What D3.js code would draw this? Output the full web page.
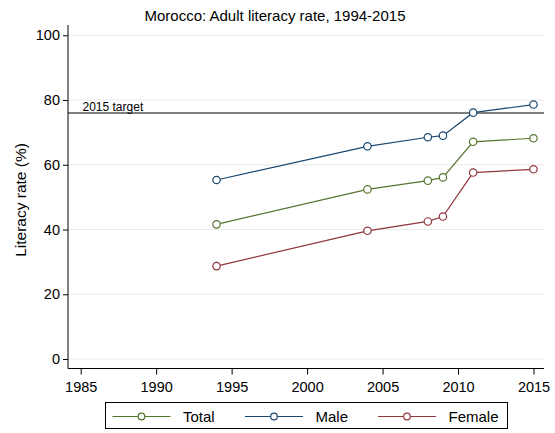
<!DOCTYPE html>
<html><head><meta charset="utf-8">
<script src="https://cdn.jsdelivr.net/npm/d3@7"></script>
<style>body{margin:0;background:#fff}svg{display:block;font-family:"Liberation Sans",Arial,sans-serif}</style>
</head><body><svg id="c" width="555" height="433"></svg>
<script>
const years = [1994, 2004, 2008, 2009, 2011, 2015];
const totalVals = [41.6, 52.4, 55.1, 56.1, 67.1, 68.2];
const maleVals = [55.3, 65.7, 68.5, 69.0, 76.1, 78.6];
const femaleVals = [28.7, 39.6, 42.5, 44.0, 57.6, 58.6];
const targetValue = 76;
const xTicks = [1985, 1990, 1995, 2000, 2005, 2010, 2015];
const yTicks = [0, 20, 40, 60, 80, 100];
const seriesNames = ["Total", "Male", "Female"];
const seriesColors = ["#55752f", "#1a476f", "#90353b"];

(function () {
const svg = d3.select("#c");
const FF = "Liberation Sans, Arial, sans-serif";
const x = d3.scaleLinear().domain([1985, 2015]).range([80.7, 533.5]);
const y = d3.scaleLinear().domain([0, 100]).range([359, 35.3]);
const pl = 68, pr = 544, pb = 368.5, pt = 25;

svg.append("g").selectAll("line").data(yTicks).join("line")
  .attr("x1", pl).attr("x2", pr).attr("y1", d => y(d)).attr("y2", d => y(d))
  .attr("stroke", "#eaeaea").attr("stroke-width", 1);

const ya = svg.append("g").attr("transform", `translate(${pl},0)`)
  .call(d3.axisLeft(y).tickValues(yTicks).tickSize(5).tickPadding(3));
ya.select(".domain").attr("d", `M0,${pt}V${pb}`).attr("stroke", "#000");
ya.selectAll("text").attr("font-size", 14.5).attr("font-family", FF).attr("fill", "#000");
const xa = svg.append("g").attr("transform", `translate(0,${pb})`)
  .call(d3.axisBottom(x).tickValues(xTicks).tickFormat(d3.format("d")).tickSize(6).tickPadding(7));
xa.select(".domain").attr("d", `M${pl},0H${pr}`).attr("stroke", "#000");
xa.selectAll("text").attr("font-size", 14.5).attr("font-family", FF).attr("fill", "#000");

svg.append("line").attr("x1", pl).attr("x2", pr)
  .attr("y1", y(targetValue)).attr("y2", y(targetValue)).attr("stroke", "#000").attr("stroke-width", 1.2);
svg.append("text").attr("x", 82.5).attr("y", y(targetValue) - 2)
  .attr("font-size", 12).attr("font-family", FF).text("2015 target");

const allVals = [totalVals, maleVals, femaleVals];
const line = d3.line().x(d => x(d[0])).y(d => y(d[1]));
allVals.forEach((vals, i) => {
  const pts = years.map((yr, j) => [yr, vals[j]]);
  svg.append("path").attr("d", line(pts)).attr("fill", "none")
    .attr("stroke", seriesColors[i]).attr("stroke-width", 1.2);
  svg.append("g").selectAll("circle").data(pts).join("circle")
    .attr("cx", d => x(d[0])).attr("cy", d => y(d[1])).attr("r", 3.7)
    .attr("fill", "#fff").attr("stroke", seriesColors[i]).attr("stroke-width", 1.2);
});

svg.append("text").attr("x", 275).attr("y", 20.5).attr("text-anchor", "middle")
  .attr("font-size", 15).attr("font-family", FF).text("Morocco: Adult literacy rate, 1994-2015");
svg.append("text").attr("transform", "translate(25.5,200) rotate(-90)").attr("text-anchor", "middle")
  .attr("font-size", 15.5).attr("font-family", FF).text("Literacy rate (%)");

svg.append("rect").attr("x", 105.5).attr("y", 402.5).attr("width", 402).attr("height", 26)
  .attr("fill", "#fff").attr("stroke", "#000").attr("stroke-width", 1);
const lx = [112.5, 245, 378];
seriesNames.forEach((n, i) => {
  const g = svg.append("g");
  g.append("line").attr("x1", lx[i]).attr("x2", lx[i] + 58).attr("y1", 416.5).attr("y2", 416.5)
    .attr("stroke", seriesColors[i]).attr("stroke-width", 1.2);
  g.append("circle").attr("cx", lx[i] + 29).attr("cy", 416.5).attr("r", 3.3)
    .attr("fill", "#fff").attr("stroke", seriesColors[i]).attr("stroke-width", 1.2);
  g.append("text").attr("x", lx[i] + 70.5).attr("y", 422).attr("font-size", 15).attr("font-family", FF).text(n);
});
})();
</script></body></html>
